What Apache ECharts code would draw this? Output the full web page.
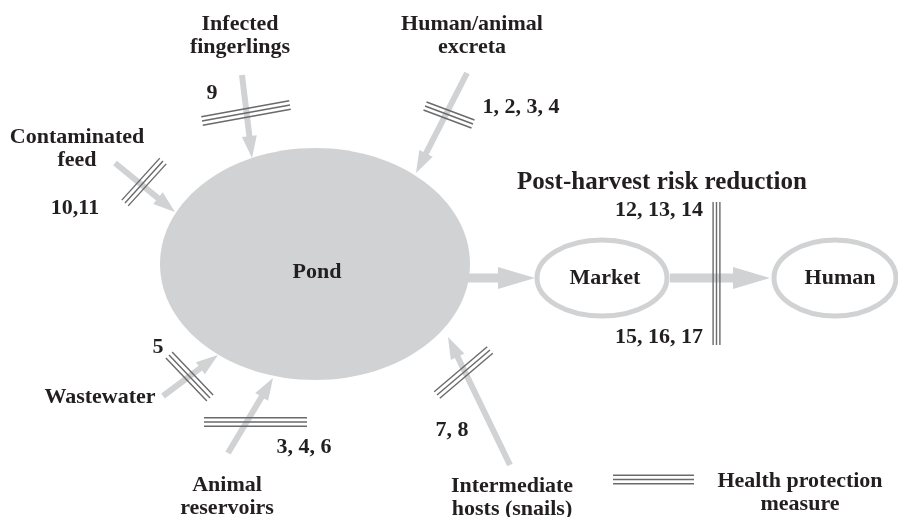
<!DOCTYPE html>
<html><head><meta charset="utf-8">
<script src="https://cdn.jsdelivr.net/npm/echarts@6/dist/echarts.min.js"></script>
<style>html,body{margin:0;padding:0;background:#fff}#c{width:898px;height:517px}</style>
</head><body><div id="c"></div>
<script>
// Diagram data (coordinates in the diagram's own 898 x 517 space)
const nodeNames = ['Pond', 'Market', 'Human'];
const nodeX = [315, 602, 835];
const nodeY = [264, 278, 278];
const nodeRX = [155, 65, 61];
const nodeRY = [116, 38, 38];
const nodeFilled = [1, 0, 0];
const nodeLabelX = [317, 605, 840];
const nodeLabelY = [272, 278, 278];

const arrowFromX = [242, 467, 115, 163, 228, 510, 468, 670];
const arrowFromY = [75, 73, 163, 396, 453, 465, 278, 278];
const arrowToX = [252, 416, 175, 218, 273, 448, 535, 770];
const arrowToY = [158, 173, 212, 355, 378, 337, 278, 278];
const arrowKind = [0, 0, 0, 0, 0, 0, 1, 1]; // 0 = hazard source, 1 = food chain flow

const barrierFromX = [202, 125, 425, 169, 204, 437, 716.5, 613];
const barrierFromY = [121, 203, 106, 355, 422, 395, 202, 479.5];
const barrierToX = [290, 163, 473, 210, 307, 490, 716.5, 694];
const barrierToY = [105, 161, 124, 398, 422, 350, 345, 479.5];
const barrierKind = [0, 0, 0, 0, 0, 0, 1, 0];

const labelTexts = ['Infected\nfingerlings', 'Human/animal\nexcreta', '9', '1, 2, 3, 4',
  'Contaminated\nfeed', '10,11', 'Post-harvest risk reduction', '12, 13, 14', '15, 16, 17',
  '5', 'Wastewater', '3, 4, 6', '7, 8', 'Animal\nreservoirs', 'Intermediate\nhosts (snails)',
  'Health protection\nmeasure'];
const labelX = [240, 472, 212, 521, 77, 75, 662, 703, 703, 158, 100, 304, 452, 227, 512, 800];
const labelY = [36, 36, 93, 107, 149, 208, 183, 210, 337, 347, 397, 447, 430, 497, 498, 493];
const labelAlign = ['center','center','center','center','center','center','center','right','right',
  'center','center','center','center','center','center','center'];
const labelKind = [0,0,0,0,0,0,1,0,0,0,0,0,0,0,0,0];

const TEXT = '#231f20';
const GREY = '#d1d2d4';
const FONT = '"Liberation Serif", "Times New Roman", serif';

const chart = echarts.init(document.getElementById('c'));

function arrowRender(params, api) {
  const p1 = api.coord([api.value(0), api.value(1)]);
  const p2 = api.coord([api.value(2), api.value(3)]);
  const kind = api.value(4);
  const w = kind ? 9 : 6, hl = kind ? 37 : 22, hw = kind ? 22 : 15;
  const dx = p2[0] - p1[0], dy = p2[1] - p1[1];
  const len = Math.sqrt(dx * dx + dy * dy);
  const ux = dx / len, uy = dy / len, nx = -uy, ny = ux;
  const bx = p2[0] - ux * hl, by = p2[1] - uy * hl;
  const pts = [
    [p1[0] + nx * w / 2, p1[1] + ny * w / 2],
    [bx + nx * w / 2, by + ny * w / 2],
    [bx + nx * hw / 2, by + ny * hw / 2],
    [p2[0], p2[1]],
    [bx - nx * hw / 2, by - ny * hw / 2],
    [bx - nx * w / 2, by - ny * w / 2],
    [p1[0] - nx * w / 2, p1[1] - ny * w / 2]
  ];
  return { type: 'polygon', shape: { points: pts }, style: { fill: GREY } };
}

function barrierRender(params, api) {
  const p1 = api.coord([api.value(0), api.value(1)]);
  const p2 = api.coord([api.value(2), api.value(3)]);
  const kind = api.value(4);
  const s = kind ? 3.4 : 4.3;
  const dx = p2[0] - p1[0], dy = p2[1] - p1[1];
  const len = Math.sqrt(dx * dx + dy * dy);
  const nx = -dy / len, ny = dx / len;
  const children = [];
  for (let k = -1; k <= 1; k++) {
    children.push({
      type: 'line',
      shape: { x1: p1[0] + nx * s * k, y1: p1[1] + ny * s * k, x2: p2[0] + nx * s * k, y2: p2[1] + ny * s * k },
      style: { stroke: '#6a6a6a', lineWidth: 1.4 }
    });
  }
  return { type: 'group', children: children };
}

function nodeRender(params, api) {
  const i = params.dataIndex;
  const c = api.coord([api.value(0), api.value(1)]);
  const r = api.size([api.value(2), api.value(3)]);
  const filled = api.value(4);
  const lp = api.coord([nodeLabelX[i], nodeLabelY[i]]);
  return {
    type: 'group',
    children: [
      {
        type: 'ellipse',
        shape: { cx: c[0], cy: c[1], rx: r[0], ry: r[1] },
        style: filled ? { fill: GREY } : { fill: '#fff', stroke: GREY, lineWidth: 5 }
      },
      {
        type: 'text',
        style: { text: nodeNames[i], x: lp[0], y: lp[1], align: 'center', verticalAlign: 'middle',
          font: 'bold 22px ' + FONT, fill: TEXT }
      }
    ]
  };
}

function labelRender(params, api) {
  const i = params.dataIndex;
  const p = api.coord([api.value(0), api.value(1)]);
  const big = labelKind[i] === 1;
  return {
    type: 'text',
    style: {
      text: labelTexts[i], x: p[0], y: p[1], align: labelAlign[i], verticalAlign: 'middle',
      font: 'bold ' + (big ? 25 : 22) + 'px ' + FONT, lineHeight: 23, fill: TEXT
    }
  };
}

chart.setOption({
  animation: false,
  backgroundColor: '#fff',
  grid: { left: 0, right: 0, top: 0, bottom: 0 },
  xAxis: { type: 'value', min: 0, max: 898, show: false },
  yAxis: { type: 'value', min: 0, max: 517, inverse: true, show: false },
  series: [
    {
      type: 'custom', name: 'flows', renderItem: arrowRender, z: 2,
      data: arrowFromX.map((x, i) => [x, arrowFromY[i], arrowToX[i], arrowToY[i], arrowKind[i]])
    },
    {
      type: 'custom', name: 'nodes', renderItem: nodeRender, z: 3,
      data: nodeNames.map((n, i) => [nodeX[i], nodeY[i], nodeRX[i], nodeRY[i], nodeFilled[i]])
    },
    {
      type: 'custom', name: 'barriers', renderItem: barrierRender, z: 4,
      data: barrierFromX.map((x, i) => [x, barrierFromY[i], barrierToX[i], barrierToY[i], barrierKind[i]])
    },
    {
      type: 'custom', name: 'labels', renderItem: labelRender, z: 5,
      data: labelTexts.map((t, i) => [labelX[i], labelY[i]])
    }
  ]
});
</script></body></html>
